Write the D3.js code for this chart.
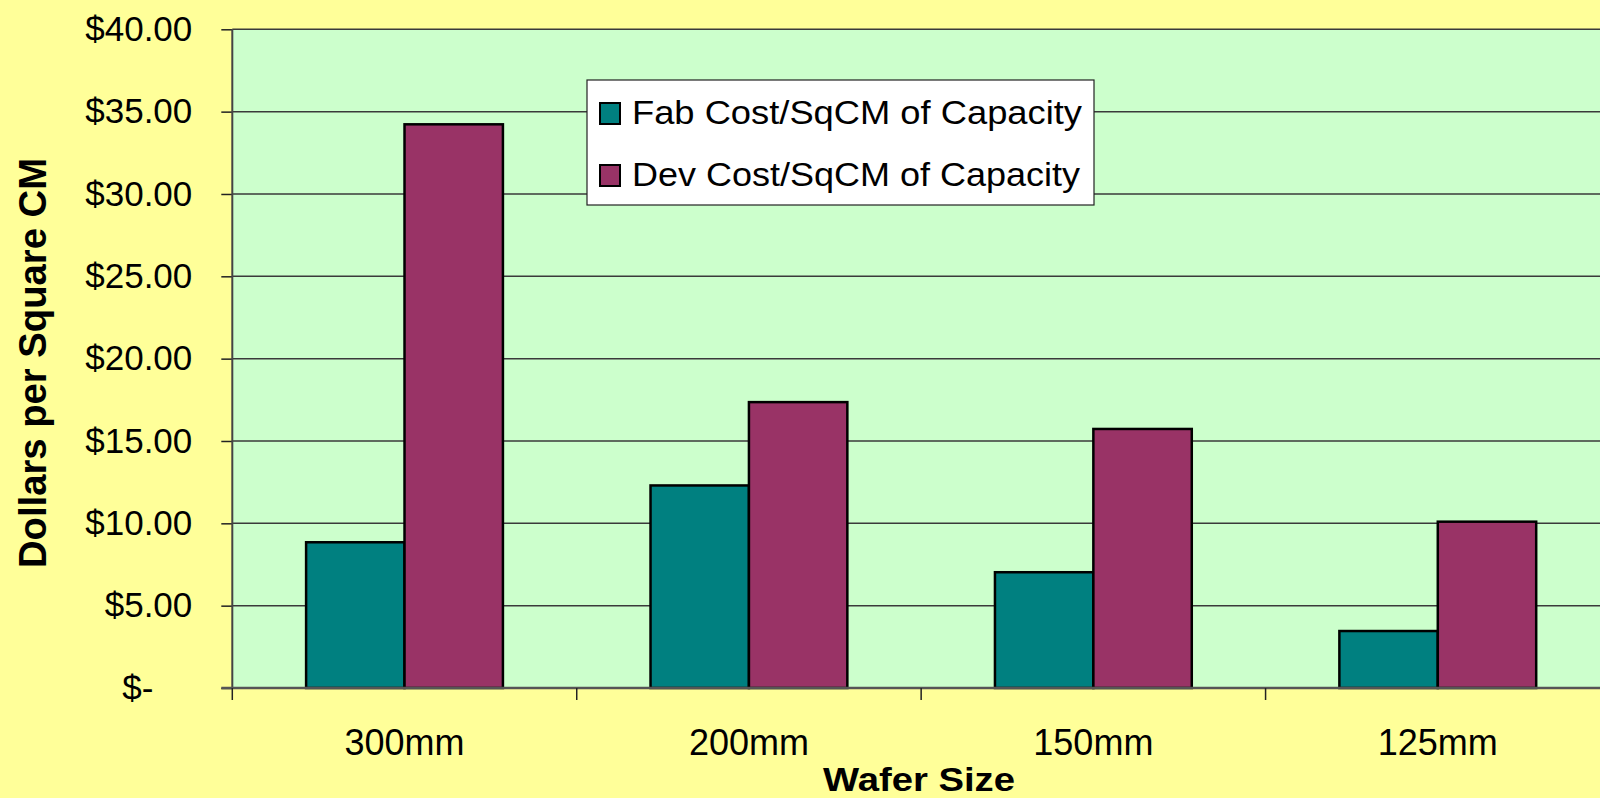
<!DOCTYPE html>
<html>
<head>
<meta charset="utf-8">
<script src="https://cdn.jsdelivr.net/npm/d3@7"></script>
<style>
  html, body { margin:0; padding:0; background:#FFFF99; }
  svg { display:block; font-family:"Liberation Sans", Arial, sans-serif; }
</style>
</head>
<body>
<svg id="chart" width="1600" height="798"></svg>
<script>
// datos
const categories = ["300mm", "200mm", "150mm", "125mm"];
const seriesNames = ["Fab Cost/SqCM of Capacity", "Dev Cost/SqCM of Capacity"];
const fabCost = [8.85, 12.30, 7.03, 3.46];
const devCost = [34.23, 17.36, 15.73, 10.10];
const yTicks = [0, 5, 10, 15, 20, 25, 30, 35, 40];
const seriesColors = ["#008080", "#993366"];

const W = 1600, H = 798;
const plot = { left: 232.3, right: 1610, top: 29.3, bottom: 688 };

const svg = d3.select("#chart");

svg.append("rect").attr("width", W).attr("height", H).attr("fill", "#FFFF99");

const y = d3.scaleLinear().domain([0, 40]).range([plot.bottom, plot.top]);
const xCat = d3.scaleBand().domain(categories).range([plot.left, plot.right]).padding(0);
// gap width 150% -> barras ocupan 2/3.5 de la categoria
const x1 = d3.scaleBand().domain([0, 1]).range([0, xCat.bandwidth()])
  .paddingInner(0).paddingOuter(0.75);

// area de trazado
svg.append("rect")
  .attr("x", plot.left).attr("y", plot.top)
  .attr("width", plot.right - plot.left).attr("height", plot.bottom - plot.top)
  .attr("fill", "#CCFFCC");

// lineas de cuadricula
svg.append("g")
  .selectAll("line")
  .data(yTicks.filter(d => d > 0))
  .enter().append("line")
  .attr("x1", plot.left).attr("x2", plot.right)
  .attr("y1", d => y(d)).attr("y2", d => y(d))
  .attr("stroke", "#3a3a3a")
  .attr("stroke-width", 1.5);

// barras
const rows = categories.map((c, i) => ({ cat: c, vals: [fabCost[i], devCost[i]] }));
const grp = svg.append("g")
  .selectAll("g")
  .data(rows)
  .enter().append("g")
  .attr("transform", d => `translate(${xCat(d.cat)},0)`);

grp.selectAll("rect")
  .data(d => d.vals.map((v, k) => ({ k, v })))
  .enter().append("rect")
  .attr("x", d => x1(d.k))
  .attr("width", x1.bandwidth())
  .attr("y", d => y(d.v))
  .attr("height", d => y(0) - y(d.v))
  .attr("fill", d => seriesColors[d.k])
  .attr("stroke", "#000")
  .attr("stroke-width", 2.5);

// eje Y
const yAxis = svg.append("g")
  .attr("transform", `translate(${plot.left},0)`)
  .call(d3.axisLeft(y)
    .tickValues(yTicks)
    .tickSize(11)
    .tickPadding(29)
    .tickFormat(d => d === 0 ? "$-" : "$" + d.toFixed(2)));
yAxis.select(".domain").remove();
yAxis.selectAll("line").attr("stroke", "#222").attr("stroke-width", 1.5);
yAxis.selectAll("text")
  .attr("fill", "#000")
  .style("font-size", "35px")
  .attr("dx", d => d === 0 ? -39 : 0);

svg.append("line")
  .attr("x1", plot.left).attr("x2", plot.left)
  .attr("y1", plot.top).attr("y2", plot.bottom)
  .attr("stroke", "#444").attr("stroke-width", 2);

// eje X
svg.append("line")
  .attr("x1", plot.left - 11).attr("x2", plot.right)
  .attr("y1", plot.bottom).attr("y2", plot.bottom)
  .attr("stroke", "#555").attr("stroke-width", 2.5);

const bounds = categories.map(c => xCat(c)).concat([plot.right]);
svg.append("g")
  .selectAll("line")
  .data(bounds)
  .enter().append("line")
  .attr("x1", d => d).attr("x2", d => d)
  .attr("y1", plot.bottom).attr("y2", plot.bottom + 12)
  .attr("stroke", "#222").attr("stroke-width", 1.5);

svg.append("g")
  .selectAll("text")
  .data(categories)
  .enter().append("text")
  .attr("x", d => xCat(d) + xCat.bandwidth() / 2)
  .attr("y", 755)
  .attr("text-anchor", "middle")
  .style("font-size", "36px")
  .text(d => d);

// titulos de ejes
svg.append("text")
  .attr("x", 919).attr("y", 791)
  .attr("text-anchor", "middle")
  .attr("textLength", 192).attr("lengthAdjust", "spacingAndGlyphs")
  .style("font-size", "34px").style("font-weight", "700")
  .text("Wafer Size");

svg.append("text")
  .attr("transform", "translate(46,363) rotate(-90)")
  .attr("text-anchor", "middle")
  .attr("textLength", 410).attr("lengthAdjust", "spacingAndGlyphs")
  .style("font-size", "38px").style("font-weight", "700")
  .text("Dollars per Square CM");

// leyenda
const leg = svg.append("g");
leg.append("rect")
  .attr("x", 587).attr("y", 80).attr("width", 507).attr("height", 125)
  .attr("fill", "#fff").attr("stroke", "#222").attr("stroke-width", 1.2);

const legItems = leg.selectAll("g.item")
  .data(seriesNames)
  .enter().append("g")
  .attr("class", "item")
  .attr("transform", (d, i) => `translate(0,${i * 62})`);

legItems.append("rect")
  .attr("x", 600).attr("y", 103).attr("width", 20).attr("height", 21)
  .attr("fill", (d, i) => seriesColors[i])
  .attr("stroke", "#000").attr("stroke-width", 2);

legItems.append("text")
  .attr("x", 632).attr("y", 124)
  .attr("textLength", (d, i) => i === 0 ? 450 : 448)
  .attr("lengthAdjust", "spacingAndGlyphs")
  .style("font-size", "33px")
  .text(d => d);
</script>
</body>
</html>
